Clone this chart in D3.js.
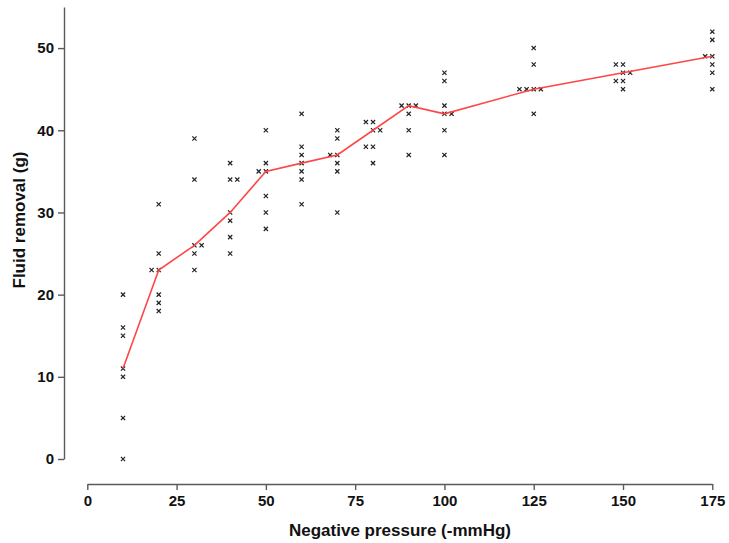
<!DOCTYPE html>
<html>
<head>
<meta charset='utf-8'>
<title>Fluid removal vs negative pressure</title>
<script src='https://d3js.org/d3.v7.min.js'></script>
<style>
  body { margin: 0; background: #fff; }
  text { font-family: 'Liberation Sans', Arial, sans-serif; }
</style>
</head>
<body>
<div id='chart'></div>
<script>
// pressure levels (-mmHg) and the median line
const pressures = [10, 20, 30, 40, 50, 60, 70, 80, 90, 100, 125, 150, 175];
const medians   = [11, 23, 26, 30, 35, 36, 37, 40, 43, 42, 45, 47, 49];

// individual samples, [pressure as drawn (jittered), fluid removal g]
const samples10  = [[10, 20], [10, 16], [10, 15], [10, 11], [10, 10], [10, 5], [10, 0]];
const samples20  = [[20, 31], [20, 25], [18, 23], [20, 23], [20, 20], [20, 19], [20, 18]];
const samples30  = [[30, 39], [30, 34], [30, 26], [32, 26], [30, 25], [30, 23]];
const samples40  = [[40, 36], [40, 34], [42, 34], [40, 30], [40, 29], [40, 27], [40, 25]];
const samples50  = [[50, 40], [50, 36], [48, 35], [50, 35], [50, 32], [50, 30], [50, 28]];
const samples60  = [[60, 42], [60, 38], [60, 37], [60, 36], [60, 35], [60, 34], [60, 31]];
const samples70  = [[70, 40], [70, 39], [68, 37], [70, 37], [70, 36], [70, 35], [70, 30]];
const samples80  = [[78, 41], [80, 41], [80, 40], [82, 40], [78, 38], [80, 38], [80, 36]];
const samples90  = [[88, 43], [90, 43], [92, 43], [90, 42], [90, 40], [90, 37]];
const samples100 = [[100, 47], [100, 46], [100, 43], [100, 42], [102, 42], [100, 40], [100, 37]];
const samples125 = [[125, 50], [125, 48], [121, 45], [123, 45], [125, 45], [127, 45], [125, 42]];
const samples150 = [[148, 48], [150, 48], [150, 47], [152, 47], [148, 46], [150, 46], [150, 45]];
const samples175 = [[175, 52], [175, 51], [173, 49], [175, 49], [175, 48], [175, 47], [175, 45]];

const xTicks = [0, 25, 50, 75, 100, 125, 150, 175];
const yTicks = [0, 10, 20, 30, 40, 50];

const allSamples = [].concat(samples10, samples20, samples30, samples40, samples50,
                             samples60, samples70, samples80, samples90, samples100,
                             samples125, samples150, samples175);

const W = 729, H = 543;
const svg = d3.select('#chart').append('svg')
    .attr('width', W)
    .attr('height', H);

const x = d3.scaleLinear().domain([0, 175]).range([87.3, 712.3]);
const y = d3.scaleLinear().domain([0, 55]).range([459, 7]);

const axisColor = '#5a5a5a';

// x axis, detached below the plot
const gx = svg.append('g')
    .attr('transform', 'translate(0,484)')
    .call(d3.axisBottom(x).tickValues(xTicks).tickSize(6).tickPadding(5).tickSizeOuter(0));
gx.select('.domain').attr('stroke', axisColor).attr('stroke-width', 1.4);
gx.selectAll('.tick line').attr('stroke', axisColor).attr('stroke-width', 1.4);
gx.selectAll('.tick text')
    .attr('fill', '#111')
    .attr('font-size', '15px')
    .attr('font-weight', 'bold')
    .attr('font-family', "'Liberation Sans', Arial, sans-serif");

// y axis
const gy = svg.append('g')
    .attr('transform', 'translate(64,0)')
    .call(d3.axisLeft(y).tickValues(yTicks).tickSize(6).tickPadding(4).tickSizeOuter(0));
gy.select('.domain').attr('stroke', axisColor).attr('stroke-width', 1.4);
gy.selectAll('.tick line').attr('stroke', axisColor).attr('stroke-width', 1.4);
gy.selectAll('.tick text')
    .attr('fill', '#111')
    .attr('font-size', '15px')
    .attr('font-weight', 'bold')
    .attr('font-family', "'Liberation Sans', Arial, sans-serif");

// axis titles
svg.append('text')
    .attr('x', 400)
    .attr('y', 536)
    .attr('text-anchor', 'middle')
    .attr('font-size', '17px')
    .attr('font-weight', 'bold')
    .attr('fill', '#111')
    .text('Negative pressure (-mmHg)');

svg.append('text')
    .attr('transform', 'translate(25,220) rotate(-90)')
    .attr('text-anchor', 'middle')
    .attr('font-size', '17px')
    .attr('font-weight', 'bold')
    .attr('fill', '#111')
    .text('Fluid removal (g)');

// samples as small crosses
const s = 2.1;
svg.append('g')
    .selectAll('path')
    .data(allSamples)
    .join('path')
    .attr('d', d => {
        const cx = x(d[0]), cy = y(d[1]);
        return `M${cx - s},${cy - s}L${cx + s},${cy + s}M${cx - s},${cy + s}L${cx + s},${cy - s}`;
    })
    .attr('stroke', '#222')
    .attr('stroke-width', 1.2)
    .attr('fill', 'none');

// median line
const line = d3.line()
    .x((d, i) => x(pressures[i]))
    .y(d => y(d));

svg.append('path')
    .datum(medians)
    .attr('d', line)
    .attr('fill', 'none')
    .attr('stroke', '#ff4646')
    .attr('stroke-width', 1.6);
</script>
</body>
</html>
